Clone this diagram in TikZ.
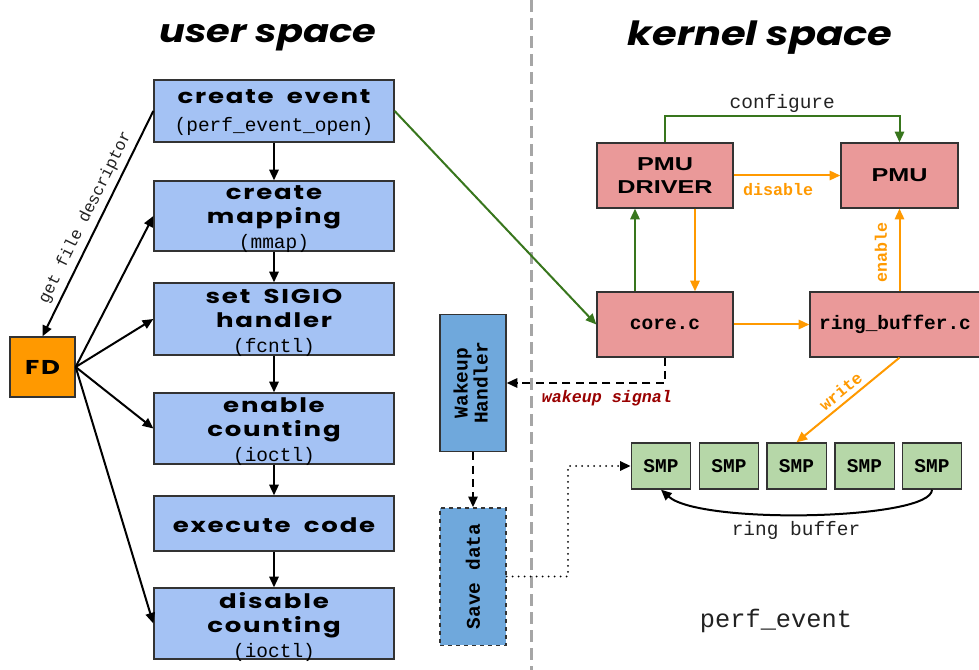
\documentclass[tikz,border=0pt]{standalone}
\usepackage{fontspec}
\setmonofont{Liberation Mono}
\newfontfamily\dispfont{Poppins}[FakeStretch=1.3, LetterSpace=9, WordSpace=1.8]
\newfontfamily\titlefont{Poppins}[FakeStretch=1.2]
\newfontfamily\blockfont{Liberation Sans}[FakeStretch=1.35]
\usetikzlibrary{arrows.meta,calc}
\definecolor{userblue}{HTML}{A4C2F4}
\definecolor{wakeblue}{HTML}{6FA8DC}
\definecolor{kernred}{HTML}{EA9999}
\definecolor{smpgreen}{HTML}{B6D7A8}
\definecolor{fdorange}{HTML}{FF9900}
\definecolor{flowgreen}{HTML}{38761D}
\definecolor{flowyellow}{HTML}{FF9900}
\definecolor{sigred}{HTML}{990000}
\definecolor{edgegray}{HTML}{333333}
\definecolor{labelgray}{HTML}{222222}
\definecolor{splitgray}{HTML}{A6A6A6}
\newcommand\calltxt[1]{{\ttfamily\mdseries\fontsize{14.6}{16}\selectfont #1}}
\begin{document}
\begin{tikzpicture}[x=0.75pt,y=-0.75pt,
  ubox/.style={draw=edgegray, line width=1pt, fill=userblue, minimum width=180pt, inner sep=0pt},
  utext/.style={inner sep=0pt, align=center, font=\dispfont\bfseries\fontsize{15}{18}\selectfont},
  kbox/.style={draw=edgegray, line width=1pt, fill=kernred, minimum width=102pt,
    minimum height=48.75pt, inner sep=0pt, align=center},
  smpbox/.style={draw=edgegray, line width=1pt, fill=smpgreen, minimum width=44.5pt,
    minimum height=34.5pt, inner sep=0pt, font=\ttfamily\bfseries\fontsize{14.6}{16}\selectfont},
  vbox/.style={draw=edgegray, line width=1pt, fill=wakeblue, minimum width=49.5pt,
    minimum height=103pt, inner sep=0pt, font=\ttfamily\bfseries\fontsize{14.6}{17}\selectfont},
  arr/.style={-{Triangle[length=8pt,width=7pt]}, line width=1.5pt},
  monolabel/.style={font=\ttfamily\fontsize{14.6}{16}\selectfont, text=labelgray, inner sep=1pt},
  hotlabel/.style={font=\ttfamily\bfseries\fontsize{12.5}{14}\selectfont, text=flowyellow, inner sep=1pt}
]
\useasboundingbox (0,0) rectangle (979,670);

% divider between user and kernel space
\coordinate (splitTop) at (531,0);
\coordinate (splitBot) at (531,670);
\draw[splitgray, line width=2.25pt, dash pattern=on 9pt off 4.5pt] (splitTop) -- (splitBot);

% headings
\node (userTitle) at (268,38) {\titlefont\bfseries\itshape\fontsize{24}{28}\selectfont user space};
\node (kernTitle) at (760,38) {\titlefont\bfseries\itshape\fontsize{25}{28}\selectfont kernel space};

% user-space steps: boxes, then their captions
\node[ubox, minimum height=46.5pt] (create) at (274,111) {};
\node[ubox, minimum height=52.5pt] (mapping) at (274,216) {};
\node[ubox, minimum height=54pt] (sigio) at (274,319) {};
\node[ubox, minimum height=53.25pt] (enable) at (274,428.5) {};
\node[ubox, minimum height=41.25pt] (execute) at (274,523.5) {};
\node[ubox, minimum height=53.25pt] (disable) at (274,623.5) {};

\node[utext] (createT) at ([yshift=-1pt]create.center)
  {create event\\[3pt]\calltxt{(perf\_event\_open)}};
\node[utext] (mappingT) at ([yshift=-2.5pt]mapping.center)
  {create\\mapping\\[1pt]\calltxt{(mmap)}};
\node[utext] (sigioT) at ([yshift=-3pt]sigio.center)
  {set SIGIO\\handler\\[1pt]\calltxt{(fcntl)}};
\node[utext] (enableT) at ([yshift=-2.5pt]enable.center)
  {enable\\counting\\[1pt]\calltxt{(ioctl)}};
\node[utext] (executeT) at ([yshift=-1pt]execute.center) {execute code};
\node[utext] (disableT) at ([yshift=-2.5pt]disable.center)
  {disable\\counting\\[1pt]\calltxt{(ioctl)}};

% file descriptor
\node[draw=edgegray, line width=1pt, fill=fdorange, minimum width=48.75pt, minimum height=45pt,
  inner sep=0pt, font=\dispfont\bfseries\fontsize{15}{17}\selectfont] (fd) at (42.5,367) {FD};

\foreach \a/\b in {create/mapping, mapping/sigio, sigio/enable, enable/execute, execute/disable}
  \draw[arr] (\a.south) -- (\b.north);

\draw[arr] (create.west) -- (fd.north);
\path (fd.north) -- (create.west)
  node[midway, sloped, above=1pt, font=\ttfamily\fontsize{12.5}{14}\selectfont, text=labelgray] (fdlabel) {get file descriptor};
\foreach \t in {mapping, sigio, enable, disable}
  \draw[arr] (fd.east) -- (\t.west);

% kernel-space blocks
\node[kbox, font=\blockfont\bfseries\fontsize{14}{17}\selectfont] (pmud) at (665,175.5) {PMU\\DRIVER};
\node[kbox, minimum width=87.75pt, font=\blockfont\bfseries\fontsize{14}{17}\selectfont] (pmu) at (899.5,175.5) {PMU};
\node[kbox, font=\ttfamily\bfseries\fontsize{14.6}{16}\selectfont] (core) at (665,324.5) {core.c};
\node[kbox, minimum width=127.5pt, font=\ttfamily\bfseries\fontsize{14.6}{16}\selectfont] (ring) at (895,324.5) {ring\_buffer.c};

% syscall enters the kernel
\draw[arr, flowgreen] (create.east) -- (core.west);

% configure path
\coordinate (cfgTurn) at (665,116);
\draw[arr, flowgreen] (pmud.north) -- (cfgTurn) -| (pmu.north)
  node[pos=0.25, above=1pt, monolabel] (cfglabel) {configure};

% disable
\draw[arr, flowyellow] (pmud.east) -- (pmu.west);
\node[hotlabel] (dislabel) at (778,190) {disable};

% core <-> driver
\draw[arr, flowgreen] ([xshift=-22.5pt]core.north) -- ([xshift=-22.5pt]pmud.south);
\draw[arr, flowyellow] ([xshift=22.5pt]pmud.south) -- ([xshift=22.5pt]core.north);
\draw[arr, flowyellow] (core.east) -- (ring.west);

% enable
\draw[arr, flowyellow] (ring.north -| pmu.south) -- (pmu.south);
\node[hotlabel, rotate=90] (enlabel) at (881,252) {enable};

% sample buffer
\node[smpbox] (smp1) at (661,466) {SMP};
\node[smpbox] (smp2) at (729,466) {SMP};
\node[smpbox] (smp3) at (796.5,466) {SMP};
\node[smpbox] (smp4) at (864.5,466) {SMP};
\node[smpbox] (smp5) at (932,466) {SMP};

% write
\draw[arr, flowyellow] (ring.south -| pmu.south) -- (smp3.north);
\path (smp3.north) -- (ring.south -| pmu.south)
  node[midway, sloped, above=3pt, hotlabel] (wrlabel) {write};

% ring wraps around
\draw[arr] (smp5.south) .. controls (932,520) and (700,525) .. (smp1.south);
\node[monolabel] (rblabel) at (796,530) {ring buffer};

% user-side handlers
\node[vbox] (wake) at (473,383) {\rotatebox{90}{\begin{tabular}{@{}c@{}}Wakeup\\[-2pt]Handler\end{tabular}}};
\node[vbox, dashed] (save) at (473,576.5) {\rotatebox{90}{Save data}};

\draw[arr, dash pattern=on 6pt off 4pt] (core.south) |- (wake.east);
\node[font=\ttfamily\bfseries\itshape\fontsize{12.5}{14}\selectfont, text=sigred] (wslabel) at (607,398) {wakeup signal};

\draw[arr, dash pattern=on 6pt off 4pt] (wake.south) -- (save.north);

\coordinate (dotLane) at (568,0);
\draw[arr, line width=1.6pt, dash pattern=on 0pt off 4.5pt, line cap=round] (save.east) -| (dotLane |- smp1.west) -- (smp1.west);

% caption
\node[font=\ttfamily\fontsize{19}{22}\selectfont, text=labelgray] (caption) at (776,621) {perf\_event};
\end{tikzpicture}
\end{document}
